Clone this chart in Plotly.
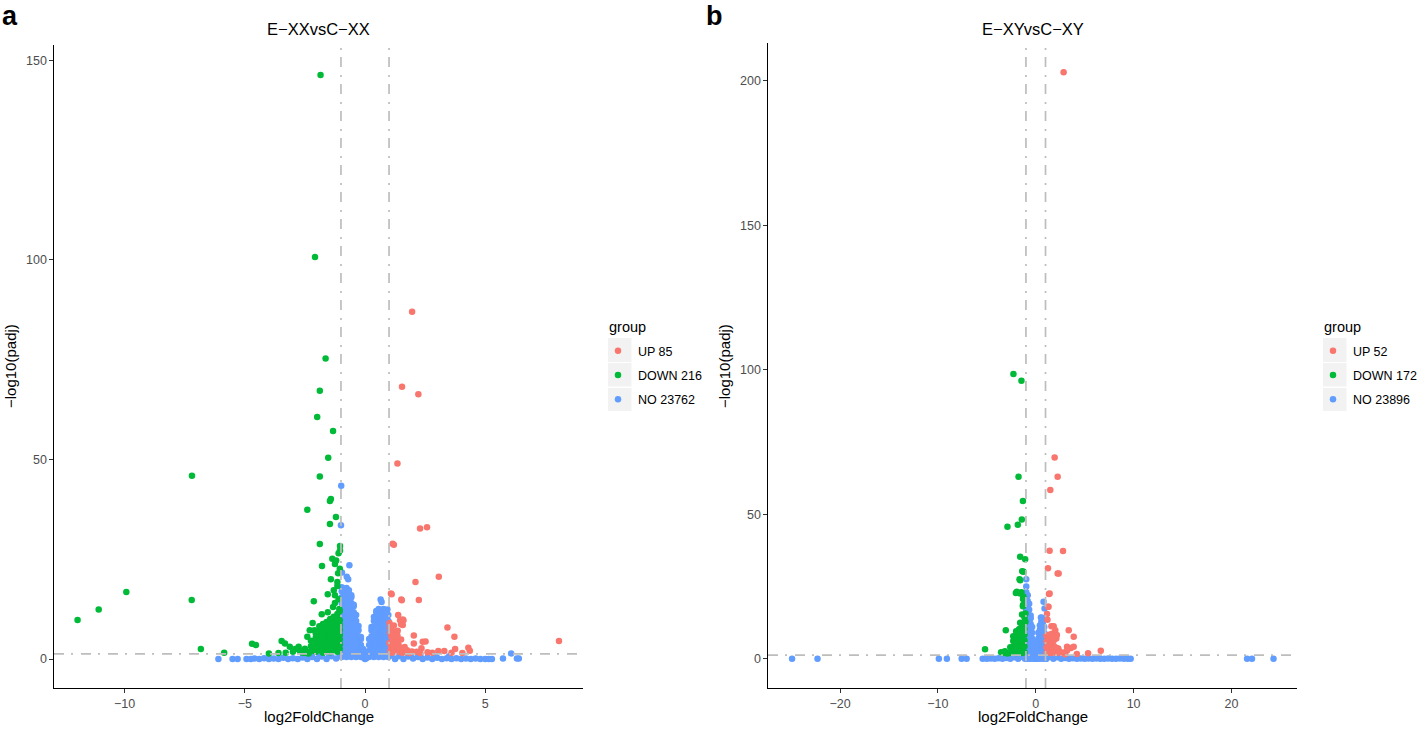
import math
import plotly.graph_objects as go

# ---------------- data ----------------
groups = ["UP", "DOWN", "NO"]
group_colors = ["#F8766D", "#00BA38", "#619CFF"]
a_counts = [85, 216, 23762]
b_counts = [52, 172, 23896]
panel_titles = ["E\u2212XXvsC\u2212XX", "E\u2212XYvsC\u2212XY"]
panel_letters = ["a", "b"]
fc_cutoff = 1.0
padj_cutoff = 0.05

a_xticks = [-10, -5, 0, 5]
a_xticktext = ["\u221210", "\u22125", "0", "5"]
a_yticks = [0, 50, 100, 150]
b_xticks = [-20, -10, 0, 10, 20]
b_xticktext = ["\u221220", "\u221210", "0", "10", "20"]
b_yticks = [0, 50, 100, 150, 200]

# ---- panel a : UP (log2FoldChange, -log10 padj)
a_up = [
    (1.96, 87.0), (1.54, 68.2), (2.22, 66.3), (1.35, 49.0), (2.29, 32.7), (2.58, 33.0),
    (1.15, 28.9), (1.20, 28.6), (3.07, 20.6), (2.10, 19.3), (1.08, 16.4), (1.11, 16.2),
    (1.51, 14.9), (1.53, 14.7), (2.24, 14.8), (1.38, 11.0), (1.57, 9.9), (1.46, 9.7),
    (1.60, 9.7), (1.50, 8.7), (1.57, 8.5), (1.36, 7.1), (1.32, 6.8), (3.43, 7.9),
    (3.72, 5.6), (3.75, 2.5), (2.03, 5.9), (2.03, 3.9), (2.40, 4.3), (2.52, 4.4),
    (2.35, 2.7), (4.30, 2.8), (4.36, 2.1), (8.07, 4.5), (3.05, 2.0), (3.30, 2.0),
    (1.05, 6.5), (1.10, 5.5), (1.15, 4.6), (1.22, 3.8), (1.30, 3.0), (1.08, 3.2),
    (1.18, 2.4), (1.28, 2.0), (1.40, 1.8), (1.55, 1.6), (1.70, 1.7), (1.85, 1.5),
    (1.05, 2.0), (1.12, 1.6), (1.25, 5.2), (1.30, 4.2), (1.40, 3.5), (1.45, 2.7),
    (1.60, 2.3), (1.75, 2.2), (1.95, 1.9), (2.15, 1.8), (2.30, 1.5), (2.60, 1.7),
    (2.80, 1.6), (3.60, 1.6), (4.05, 1.5), (1.12, 7.2), (1.20, 8.4), (1.02, 9.0),
    (1.35, 5.9), (1.02, 4.0), (1.50, 4.9), (1.65, 3.0), (1.05, 7.8), (1.15, 6.0),
]

# ---- panel a : DOWN
a_down = [
    (-1.85, 146.3), (-2.08, 100.7), (-1.64, 75.3), (-1.88, 67.2), (-1.99, 60.6),
    (-1.33, 57.1), (-1.53, 50.4), (-1.88, 45.7), (-7.20, 45.9), (-1.42, 40.1),
    (-1.46, 39.6), (-2.40, 37.4), (-1.21, 35.6), (-1.46, 33.8), (-1.88, 28.8),
    (-1.04, 28.3), (-1.10, 26.5), (-1.04, 27.2), (-1.36, 25.1), (-1.20, 24.7),
    (-1.25, 23.8), (-1.79, 23.3), (-1.42, 20.0), (-1.15, 19.3), (-2.13, 14.5),
    (-1.55, 16.2), (-1.25, 16.0), (-1.15, 18.3), (-9.93, 16.8), (-11.08, 12.4),
    (-11.96, 9.8), (-7.21, 14.8), (-6.83, 2.5), (-5.86, 1.6), (-4.70, 3.8),
    (-4.54, 3.5), (-3.47, 4.5), (-3.33, 3.9), (-3.13, 3.1), (-2.90, 2.5),
    (-2.76, 3.1), (-2.71, 2.1), (-3.00, 1.8), (-1.80, 11.2), (-1.55, 11.7),
    (-1.33, 13.0), (-1.25, 14.0), (-1.10, 15.0), (-1.07, 12.5), (-2.18, 9.0),
    (-2.30, 7.2), (-2.40, 5.6), (-2.10, 7.2), (-2.60, 1.6), (-2.45, 1.5),
    (-2.50, 2.6), (-2.35, 1.4), (-3.30, 1.6), (-3.60, 1.5), (-4.00, 1.4),
    (-1.12, 21.5), (-1.30, 17.2), (-1.05, 22.6),
]
a_down_cluster = {
    -2.25: [2.0, 3.2, 4.6],
    -2.05: [1.8, 2.9, 4.1, 5.3, 6.4],
    -1.90: [2.2, 3.4, 4.6, 5.8, 7.0, 8.2],
    -1.75: [1.6, 2.8, 4.0, 5.2, 6.4, 7.6, 8.8],
    -1.60: [2.1, 3.3, 4.5, 5.7, 6.9, 8.1, 9.3],
    -1.45: [1.7, 2.9, 4.1, 5.3, 6.5, 7.7, 8.9, 10.0],
    -1.30: [2.3, 3.5, 4.7, 5.9, 7.1, 8.3, 9.5, 10.6],
    -1.15: [1.8, 3.0, 4.2, 5.4, 6.6, 7.8, 9.0, 10.2, 11.3],
    -1.05: [2.5, 3.7, 4.9, 6.1, 7.3, 8.5, 9.7, 12.0],
}

# ---- panel a : NO
a_no = [
    (-0.99, 43.4), (-1.00, 33.5), (-0.65, 23.5), (-0.96, 21.7), (-0.76, 20.6),
    (-0.70, 20.0), (0.65, 14.9), (0.69, 14.3), (0.93, 12.4), (0.55, 11.8),
    (-6.10, 0.0), (-5.51, 0.0), (-5.30, 0.0), (-4.93, 0.0), (-4.75, 0.0),
    (-4.60, 0.1), (-4.40, 0.0), (-4.20, 0.2), (-4.00, 0.0), (-3.80, 0.1),
    (-3.60, 0.0), (-3.40, 0.3), (-3.20, 0.0), (-3.00, 0.2), (-2.80, 0.0),
    (-2.60, 0.4), (-2.40, 0.0), (-2.20, 0.5), (-2.00, 0.0), (-1.80, 0.6),
    (-1.60, 0.0), (-1.40, 0.7), (-1.20, 0.1), (-1.05, 0.8), (-1.50, 1.1),
    (-1.90, 1.0), (-0.05, 0.3), (0.00, 0.0), (0.05, 0.2), (1.10, 0.9),
    (1.25, 0.0), (1.40, 0.7), (1.60, 0.0), (1.80, 0.6), (2.00, 0.1),
    (2.20, 0.5), (2.40, 0.0), (2.60, 0.4), (2.80, 0.0), (3.00, 0.3),
    (3.20, 0.0), (3.40, 0.2), (3.60, 0.0), (3.80, 0.2), (4.00, 0.0),
    (4.20, 0.1), (4.40, 0.0), (4.60, 0.1), (4.80, 0.0), (5.00, 0.0),
    (5.15, 0.0), (5.28, 0.0), (5.74, 0.1), (6.08, 1.4), (6.32, 0.1),
    (6.40, 0.1), (1.50, 1.1), (1.90, 1.0), (2.30, 0.9), (2.90, 0.8), (3.50, 0.7),
]
a_no_spikes = {
    -0.97: [0.5, 2.0, 3.5, 5.0, 6.5, 8.0, 9.5, 11.0, 12.5, 14.0, 15.5, 17.0, 18.0],
    -0.87: [1.2, 2.7, 4.2, 5.7, 7.2, 8.7, 10.2, 11.7, 13.2, 14.7, 16.2, 17.6],
    -0.77: [0.5, 2.0, 3.5, 5.0, 6.5, 8.0, 9.5, 11.0, 12.5, 14.0, 15.5, 17.0, 17.8],
    -0.67: [1.2, 2.7, 4.2, 5.7, 7.2, 8.7, 10.2, 11.7, 13.2, 14.7, 16.2, 17.2],
    -0.57: [0.5, 2.0, 3.5, 5.0, 6.5, 8.0, 9.5, 11.0, 12.5, 14.0, 15.5, 16.0],
    -0.47: [1.2, 2.7, 4.2, 5.7, 7.2, 8.7, 10.2, 11.7, 13.2, 13.6],
    -0.37: [0.5, 2.0, 3.5, 5.0, 6.5, 8.0, 9.5, 11.0],
    -0.27: [1.2, 2.7, 4.2, 5.7, 7.2, 8.3],
    -0.17: [0.5, 2.0, 3.5, 5.0, 5.5],
    -0.08: [1.2, 2.5],
    0.07: [0.5, 1.8],
    0.17: [0.5, 2.0, 3.5, 5.0],
    0.27: [1.2, 2.7, 4.2, 5.7, 7.2, 8.0],
    0.37: [0.5, 2.0, 3.5, 5.0, 6.5, 8.0, 9.5, 10.5],
    0.47: [1.2, 2.7, 4.2, 5.7, 7.2, 8.7, 10.2, 11.7, 12.0],
    0.57: [0.5, 2.0, 3.5, 5.0, 6.5, 8.0, 9.5, 11.0, 12.5],
    0.67: [1.2, 2.7, 4.2, 5.7, 7.2, 8.7, 10.2, 11.7, 12.2],
    0.77: [0.5, 2.0, 3.5, 5.0, 6.5, 8.0, 9.5, 11.0, 12.5],
    0.87: [1.2, 2.7, 4.2, 5.7, 7.2, 8.7, 10.2, 11.7],
    0.97: [0.5, 2.0, 3.5, 5.0, 6.5, 8.0, 9.5, 11.0],
}

# ---- panel b : UP
b_up = [
    (2.85, 202.9), (1.93, 69.6), (2.24, 63.0), (1.49, 58.4), (1.42, 37.4), (2.79, 37.3),
    (1.25, 31.3), (2.24, 29.5), (2.34, 29.5), (1.35, 22.4), (1.42, 22.6), (1.25, 18.0),
    (1.31, 18.0), (1.83, 11.3), (3.37, 9.9), (3.88, 7.6), (3.20, 4.2), (3.60, 3.7),
    (3.88, 4.2), (3.20, 2.9), (5.35, 1.9), (6.65, 2.8), (1.60, 11.3), (2.00, 9.9),
    (2.16, 8.2), (2.10, 7.0), (1.50, 7.5), (1.66, 8.7), (1.80, 3.9), (2.30, 3.6),
    (2.40, 2.6), (2.80, 2.2), (3.00, 1.6), (4.20, 1.7), (1.20, 13.5), (1.15, 15.5),
]
b_up_cluster = {
    1.10: [2.0, 4.0, 6.0, 8.0],
    1.35: [2.3, 4.3, 6.3, 8.3],
    1.60: [2.0, 4.0, 6.0],
    1.85: [2.4, 4.4, 6.4],
    2.10: [2.0, 3.8],
    2.40: [2.2],
}

# ---- panel b : DOWN
b_down = [
    (-2.28, 98.5), (-1.46, 96.2), (-1.76, 63.0), (-1.31, 54.6), (-1.42, 48.2),
    (-2.89, 45.7), (-1.83, 46.4), (-1.59, 35.3), (-1.08, 34.4), (-1.38, 30.3),
    (-1.25, 30.1), (-1.66, 27.5), (-1.59, 27.2), (-2.03, 22.8), (-1.93, 23.2),
    (-1.46, 23.0), (-1.59, 22.6), (-1.25, 21.5), (-1.30, 20.7), (-1.30, 18.6),
    (-1.05, 15.7), (-1.40, 15.3), (-1.05, 12.8), (-1.31, 18.2), (-1.59, 12.5),
    (-1.76, 9.9), (-3.06, 9.9), (-5.18, 3.3), (-3.54, 2.3), (-3.15, 2.6),
    (-3.30, 2.0), (-2.90, 1.8),
]
b_down_cluster = {
    -2.60: [2.0, 4.0],
    -2.30: [2.2, 4.2, 6.2, 7.8],
    -2.00: [2.0, 4.0, 6.0, 8.0, 9.5],
    -1.70: [2.3, 4.3, 6.3, 8.3, 10.3],
    -1.40: [2.0, 4.0, 6.0, 8.0, 10.0, 12.0],
    -1.15: [2.3, 4.3, 6.3, 8.3, 10.3, 12.3, 14.3],
}

# ---- panel b : NO
b_no = [
    (-24.90, 0.0), (-22.30, 0.0), (-9.90, 0.0), (-9.08, 0.0), (-7.57, 0.0),
    (-7.06, 0.0), (-5.42, 0.0), (21.60, 0.0), (22.10, 0.0), (24.30, 0.0),
    (0.80, 19.7), (0.90, 17.4), (0.53, 14.3), (0.63, 14.2), (0.70, 13.4),
    (-5.00, 0.0), (-4.60, 0.1), (-4.20, 0.0), (-3.80, 0.2), (-3.40, 0.0),
    (-3.00, 0.3), (-2.60, 0.0), (-2.20, 0.5), (-1.80, 0.0), (-1.40, 0.7),
    (-1.10, 0.0), (1.10, 0.0), (1.40, 0.7), (1.80, 0.0), (2.20, 0.5),
    (2.60, 0.0), (3.00, 0.3), (3.40, 0.0), (3.80, 0.2), (4.20, 0.0),
    (4.60, 0.1), (5.00, 0.0), (5.40, 0.1), (5.80, 0.0), (6.20, 0.1),
    (6.60, 0.0), (7.00, 0.0), (7.40, 0.1), (7.80, 0.0), (8.20, 0.0),
    (8.60, 0.1), (9.00, 0.0), (9.40, 0.0), (9.70, 0.0), (0.00, 0.0),
]
b_no_spikes = {
    -0.97: [1.0, 3.0, 5.0, 7.0, 9.0, 11.0, 13.0, 15.0, 17.0, 19.0, 21.0, 23.0, 25.0, 27.5],
    -0.82: [0.0, 2.0, 4.0, 6.0, 8.0, 10.0, 12.0, 14.0, 16.0, 18.0, 20.0, 22.0],
    -0.67: [1.0, 3.0, 5.0, 7.0, 9.0, 11.0, 13.0, 15.0, 17.0, 19.0],
    -0.52: [0.0, 2.0, 4.0, 6.0, 8.0, 10.0, 12.0, 14.0, 15.0],
    -0.37: [1.0, 3.0, 5.0, 7.0, 9.0, 11.0],
    -0.22: [0.0, 2.0, 4.0, 6.0],
    -0.08: [1.0, 2.5],
    0.12: [0.0, 2.0],
    0.27: [1.0, 3.0, 5.0, 7.0, 9.0],
    0.42: [0.0, 2.0, 4.0, 6.0, 8.0, 10.0, 11.5],
    0.57: [1.0, 3.0, 5.0, 7.0, 9.0, 11.0, 12.8],
    0.72: [0.0, 2.0, 4.0, 6.0, 8.0, 10.0, 12.0, 13.4],
    0.87: [1.0, 3.0, 5.0, 7.0, 9.0, 11.0],
    1.00: [0.0, 2.0],
}


# ---------------- helpers ----------------
def flatten(points, columns=None):
    xs = [p[0] for p in points]
    ys = [p[1] for p in points]
    if columns:
        for cx, cys in columns.items():
            for cy in cys:
                xs.append(cx)
                ys.append(cy)
    return xs, ys


W, H = 1418, 729


def px(x):
    return x / W


def py(y):
    return 1 - y / H


FONT = "Liberation Sans, Arial, Helvetica, sans-serif"
MARKER = 6.5

panels = [
    dict(
        series={
            "NO": flatten(a_no, a_no_spikes),
            "DOWN": flatten(a_down, a_down_cluster),
            "UP": flatten(a_up),
        },
        counts=a_counts, xa="x", ya="y", legend="legend",
    ),
    dict(
        series={
            "NO": flatten(b_no, b_no_spikes),
            "DOWN": flatten(b_down, b_down_cluster),
            "UP": flatten(b_up, b_up_cluster),
        },
        counts=b_counts, xa="x2", ya="y2", legend="legend2",
    ),
]

fig = go.Figure()
for pi, p in enumerate(panels):
    for g in ["NO", "DOWN", "UP"]:
        gi = groups.index(g)
        xs, ys = p["series"][g]
        fig.add_trace(go.Scatter(
            x=xs, y=ys, mode="markers",
            name=f"{g} {p['counts'][gi]}",
            marker=dict(color=group_colors[gi], size=MARKER, line=dict(width=0)),
            xaxis=p["xa"], yaxis=p["ya"],
            legend=p["legend"], legendgroup=f"{pi}{g}", legendrank=gi + 1,
            hoverinfo="x+y+name",
        ))

axis_common = dict(
    showline=True, linecolor="black", linewidth=1.1, mirror=False,
    showgrid=False, zeroline=False, ticks="outside", ticklen=3.5,
    tickwidth=1.1, tickcolor="#333333", automargin=False,
    tickfont=dict(family=FONT, size=12.5, color="#4D4D4D"),
)

ydom_bottom = py(688)
legend_common = dict(
    xanchor="left", yanchor="top", bgcolor="rgba(0,0,0,0)", itemwidth=30,
    tracegroupgap=5,
    font=dict(family=FONT, size=12.5, color="black"),
)
fig.update_layout(
    template="none",
    width=W, height=H,
    margin=dict(l=0, r=0, t=0, b=0, autoexpand=False),
    paper_bgcolor="white", plot_bgcolor="white",
    font=dict(family=FONT, color="black"),
    xaxis=dict(axis_common, domain=[px(54), px(583)], range=[-12.94, 9.07],
               tickvals=a_xticks, ticktext=a_xticktext, anchor="y"),
    yaxis=dict(axis_common, domain=[ydom_bottom, py(45)], range=[-7.26, 153.8],
               tickvals=a_yticks, anchor="x"),
    xaxis2=dict(axis_common, domain=[px(768), px(1297)], range=[-27.36, 26.7],
                tickvals=b_xticks, ticktext=b_xticktext, anchor="y2"),
    yaxis2=dict(axis_common, domain=[ydom_bottom, py(43)], range=[-10.1, 213.0],
                tickvals=b_yticks, anchor="x2"),
    showlegend=True,
    legend=dict(legend_common, x=px(598), y=py(336)),
    legend2=dict(legend_common, x=px(1313), y=py(336)),
)

# threshold lines
thr_y = -math.log10(padj_cutoff)
dash = "10px,7px,2px,8px"
for xa, ya in [("x", "y"), ("x2", "y2")]:
    for xv in (-fc_cutoff, fc_cutoff):
        fig.add_shape(type="line", xref=xa, yref=f"{ya} domain", x0=xv, x1=xv, y0=0, y1=1,
                      line=dict(color="#BDBDBD", width=1.7, dash=dash), layer="above")
    fig.add_shape(type="line", xref=f"{xa} domain", yref=ya, x0=0, x1=1, y0=thr_y, y1=thr_y,
                  line=dict(color="#BDBDBD", width=1.7, dash=dash), layer="above")

# legend key backgrounds
for lx in (608, 1323):
    for top, bot in [(338, 362), (363, 386.5), (388, 411)]:
        fig.add_shape(type="rect", xref="paper", yref="paper",
                      x0=px(lx), x1=px(lx + 23.5), y0=py(bot), y1=py(top),
                      fillcolor="#F2F2F2", line=dict(width=0), layer="below")

# titles, letters, axis titles, legend titles
ann = []
for cx, t in zip([318.5, 1033], panel_titles):
    ann.append(dict(text=t, x=px(cx), y=py(29), xref="paper", yref="paper",
                    xanchor="center", yanchor="middle", showarrow=False,
                    font=dict(family=FONT, size=16.5, color="black")))
for lx, L in zip([10, 714], panel_letters):
    ann.append(dict(text=f"<b>{L}</b>", x=px(lx), y=py(16), xref="paper", yref="paper",
                    xanchor="center", yanchor="middle", showarrow=False,
                    font=dict(family=FONT, size=27, color="black")))
for cx in [318.5, 1033]:
    ann.append(dict(text="log2FoldChange", x=px(cx), y=py(716), xref="paper", yref="paper",
                    xanchor="center", yanchor="middle", showarrow=False,
                    font=dict(family=FONT, size=15, color="black")))
for cx in [10, 724]:
    ann.append(dict(text="\u2212log10(padj)", x=px(cx), y=py(366), xref="paper", yref="paper",
                    xanchor="center", yanchor="middle", showarrow=False, textangle=-90,
                    font=dict(family=FONT, size=15, color="black")))
for lx in [607, 1322]:
    ann.append(dict(text="group", x=px(lx), y=py(327), xref="paper", yref="paper",
                    xanchor="left", yanchor="middle", showarrow=False,
                    font=dict(family=FONT, size=14.5, color="black")))
fig.update_layout(annotations=ann)

fig.write_html(
    "out.html",
    config={"displayModeBar": False},
    post_script="document.body.style.margin='0';document.body.style.overflow='hidden';",
)
